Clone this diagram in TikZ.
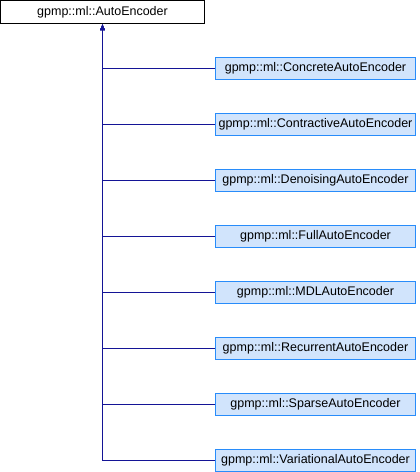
\documentclass[tikz,border=0pt]{standalone}
\usepackage{fontspec}
\setmainfont{Liberation Sans}
\usetikzlibrary{positioning,arrows.meta}
\definecolor{classfill}{RGB}{209,228,252}
\definecolor{classdraw}{RGB}{40,140,250}
\definecolor{edgeblue}{RGB}{20,20,150}
\begin{document}
\begin{tikzpicture}[x=1pt, y=-1pt,
basenode/.style={rectangle, draw=black, fill=white, line width=1pt, minimum width=204pt, minimum height=23pt, inner sep=0pt, font=\fontsize{12.5}{14}\selectfont},
childnode/.style={rectangle, draw=classdraw, fill=classfill, line width=1pt, minimum width=200pt, minimum height=22pt, inner sep=0pt, font=\fontsize{12.5}{14}\selectfont},
inherit/.style={edgeblue, line width=0.9pt, -{Latex[length=6pt, width=5pt]}},
]
\useasboundingbox (0,0) rectangle (420,472);
%Nodes
\node[basenode]      (AE)         at (102.5,12)      {gpmp::ml::AutoEncoder};
\node[childnode]     (Concrete)   at (315.5,68)      {gpmp::ml::ConcreteAutoEncoder};
\node[childnode]     (Contractive) at (315.5,124)    {gpmp::ml::ContractiveAutoEncoder};
\node[childnode]     (Denoising)  at (315.5,180)     {gpmp::ml::DenoisingAutoEncoder};
\node[childnode]     (Full)       at (315.5,236)     {gpmp::ml::FullAutoEncoder};
\node[childnode]     (MDL)        at (315.5,292)     {gpmp::ml::MDLAutoEncoder};
\node[childnode]     (Recurrent)  at (315.5,348)     {gpmp::ml::RecurrentAutoEncoder};
\node[childnode]     (Sparse)     at (315.5,404)     {gpmp::ml::SparseAutoEncoder};
\node[childnode]     (Variational) at (315.5,460)    {gpmp::ml::VariationalAutoEncoder};

%Lines
\draw[inherit] (Variational.west) -| (AE.south);
\draw[inherit] (Sparse.west) -| (AE.south);
\draw[inherit] (Recurrent.west) -| (AE.south);
\draw[inherit] (MDL.west) -| (AE.south);
\draw[inherit] (Full.west) -| (AE.south);
\draw[inherit] (Denoising.west) -| (AE.south);
\draw[inherit] (Contractive.west) -| (AE.south);
\draw[inherit] (Concrete.west) -| (AE.south);
\end{tikzpicture}
\end{document}
